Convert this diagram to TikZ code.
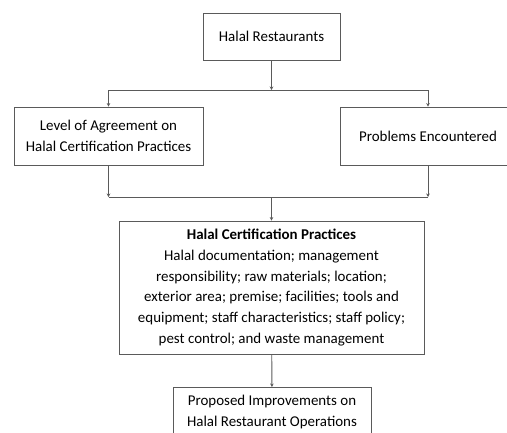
\documentclass[tikz,border=0pt]{standalone}
\usepackage{fontspec}
\setmainfont{Carlito}
\usetikzlibrary{arrows.meta}

\definecolor{edgegray}{HTML}{5A5A5A}
\tikzset{bb/.style={draw=edgegray, line width=0.9pt, align=center, inner sep=0pt,
    font=\fontsize{15}{21}\selectfont, text=black},
  link/.style={draw=edgegray, line width=0.9pt},
  arr/.style={link, -{Stealth[length=3.5pt, width=3.5pt]}}}

\begin{document}
\begin{tikzpicture}[x=1bp, y=-1bp]
    \useasboundingbox (0,0) rectangle (507,432);

    \node[bb, minimum width=137bp, minimum height=47bp] (rest) at (271.5,36.5) {Halal Restaurants};

    \node[bb, minimum width=189bp, minimum height=58bp] (agree) at (108.5,136) {Level of Agreement on\\Halal Certification Practices};
    \node[bb, minimum width=176bp, minimum height=58bp] (probs) at (428,136) {Problems Encountered};

    \node[bb, minimum width=305bp, minimum height=133bp] (practices) at (271.5,287.5) {\textbf{Halal Certification Practices}\\Halal documentation; management\\responsibility; raw materials; location;\\exterior area; premise; facilities; tools and\\equipment; staff characteristics; staff policy;\\pest control; and waste management};

    \node[bb, minimum width=198bp, minimum height=50bp, anchor=north] (improve) at (272,387) {Proposed Improvements on\\Halal Restaurant Operations};

    \coordinate (splitA) at (271.5,90);
    \coordinate (splitB) at (271.5,197);

    % upper split
    \draw[arr] (rest) -- (splitA);
    \draw[arr] (splitA) -| (agree);
    \draw[arr] (splitA) -| (probs);

    % lower merge
    \draw[arr] (agree) -- (agree.south |- splitB);
    \draw[arr] (probs) -- (probs.south |- splitB);
    \draw[link] (agree.south |- splitB) -- (probs.south |- splitB);
    \draw[arr] (splitB) -- (practices);

    \draw[arr] (practices) -- (improve);
\end{tikzpicture}
\end{document}
